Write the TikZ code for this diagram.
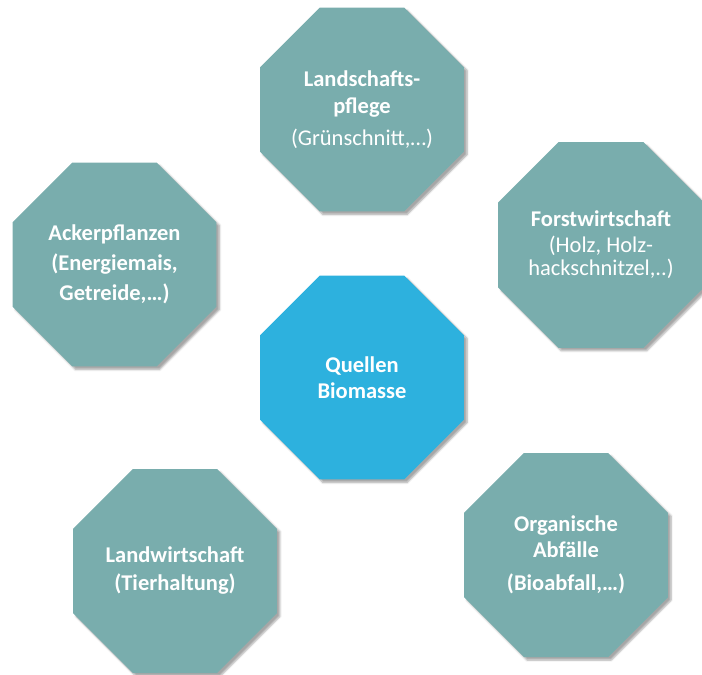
\documentclass[tikz,border=0pt]{standalone}
\usepackage{fontspec}
\setmainfont{Carlito}
\usetikzlibrary{positioning, shapes.geometric, shadows.blur}
\definecolor{srcteal}{RGB}{121,173,173}
\definecolor{hubblue}{RGB}{45,177,222}
\tikzset{
  octa/.style = {regular polygon, regular polygon sides=8, inner sep=0pt,
                 minimum size=220.8pt, text=white, align=center,
                 font=\fontsize{22.5}{26}\selectfont,
                 blur shadow={shadow xshift=3pt, shadow yshift=-3pt,
                              shadow blur steps=6, shadow opacity=35}},
  src/.style  = {octa, fill=srcteal},
  hub/.style  = {octa, fill=hubblue, font=\fontsize{22.5}{26}\selectfont\bfseries},
  node distance = 100pt and 100pt, on grid
}

\begin{document}
\begin{tikzpicture}[x=1pt, y=-1pt]
  \useasboundingbox (0,0) rectangle (702,675);

  % ── centre ────────────────────────────────────────────────────────────────
  \node[hub] (Q) at (362,377.5) {Quellen\\Biomasse};

  % ── sources round the centre ──────────────────────────────────────────────
  \node[src, above=268pt of Q] (Land)
        {\textbf{Landschafts-}\\[1pt]\textbf{pflege}\\[6pt](Grünschnitt,…)};
  \node[src, above right=132.5pt and 239pt of Q] (Forst)
        {\textbf{Forstwirtschaft}\\(Holz, Holz-\\[-3pt]hackschnitzel,..)};
  \node[src, above left=113pt and 247.5pt of Q] (Acker)
        {\bfseries Ackerpflanzen\\[4pt]\bfseries(Energiemais,\\[4pt]\bfseries Getreide,…)};
  \node[src, below left=193.5pt and 187pt of Q] (Tier)
        {\bfseries Landwirtschaft\\[2pt]\bfseries(Tierhaltung)};
  \node[src, below right=177.5pt and 204pt of Q] (Abf)
        {\bfseries Organische\\\bfseries Abfälle\\[7pt]\bfseries(Bioabfall,…)};

\end{tikzpicture}
\end{document}
